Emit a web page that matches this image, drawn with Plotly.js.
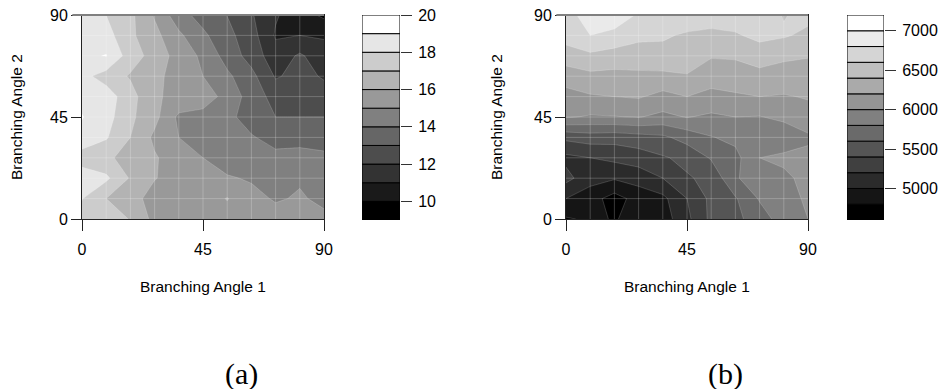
<!DOCTYPE html>
<html><head><meta charset="utf-8">
<script src="https://cdn.plot.ly/plotly-3.0.1.min.js"></script>
<style>html,body{margin:0;padding:0;background:#fff}#chart{width:939px;height:389px}</style>
</head><body><div id="chart"></div>
<script>
// grid of branching angles (data nodes)
const angle1 = [0, 9, 18, 27, 36, 45, 54, 63, 72, 81, 90];
const angle2 = [0, 9, 18, 27, 36, 45, 54, 63, 72, 81, 90];
const tickAngles = [0, 45, 90];

// panel (a): rows are angle2 = 0 .. 90, columns angle1 = 0 .. 90
const zA = [
  [17.6, 17.5, 16.95, 15.7, 15.6, 15.6, 15.6, 15.5, 15.4, 15.3, 15.2],
  [18.05, 17.0, 16.4, 15.6, 15.5, 15.5, 16.05, 15.3, 14.9, 15.1, 14.8],
  [18.6, 18.2, 16.9, 16.05, 15.6, 15.3, 15.1, 14.9, 14.8, 14.9, 14.6],
  [17.5, 17.2, 16.6, 16.1, 15.5, 15.0, 14.5, 14.1, 14.3, 14.5, 14.3],
  [18.7, 18.1, 17.0, 15.8, 15.0, 14.5, 14.2, 14.1, 13.6, 13.5, 13.4],
  [19.05, 18.4, 17.2, 16.3, 14.8, 14.6, 14.3, 13.5, 13.0, 13.0, 13.0],
  [18.7, 18.5, 17.4, 16.1, 15.8, 15.6, 14.6, 13.6, 12.6, 12.5, 12.4],
  [18.3, 17.6, 16.9, 16.2, 15.7, 15.0, 14.2, 13.3, 11.9, 12.3, 11.9],
  [18.8, 19.05, 17.5, 16.6, 15.6, 14.8, 13.6, 12.6, 11.4, 12.15, 11.4],
  [18.8, 18.4, 17.2, 16.3, 15.2, 14.2, 13.3, 12.4, 10.9, 11.0, 10.9],
  [18.7, 18.0, 17.25, 15.9, 14.4, 13.6, 12.98, 12.1, 11.1, 10.45, 9.8]
];
const levelsA = [9, 10, 11, 12, 13, 14, 15, 16, 17, 18, 19, 20];
const keyTicksA = [10, 12, 14, 16, 18, 20];

// panel (b)
const zB = [
  [4780, 4830, 4790, 4850, 4900, 5150, 5450, 5550, 5700, 5900, 6000],
  [5000, 4880, 4720, 4880, 4950, 5200, 5450, 5580, 5820, 5950, 6020],
  [5260, 5080, 5020, 5080, 5200, 5380, 5450, 5780, 5900, 5950, 6070],
  [5150, 5200, 5250, 5300, 5380, 5450, 5620, 5740, 6000, 6050, 6060],
  [5450, 5500, 5480, 5520, 5560, 5680, 5790, 5850, 5900, 5850, 5960],
  [6020, 5980, 5990, 6010, 5950, 6010, 5960, 6000, 5990, 6050, 6150],
  [6120, 6180, 6200, 6220, 6140, 6200, 6160, 6180, 6200, 6190, 6210],
  [6300, 6350, 6330, 6360, 6350, 6390, 6260, 6280, 6330, 6280, 6250],
  [6500, 6560, 6540, 6500, 6550, 6480, 6420, 6430, 6500, 6450, 6420],
  [6690, 6800, 6700, 6650, 6620, 6580, 6560, 6580, 6650, 6620, 6560],
  [6720, 6900, 7020, 6760, 6720, 6700, 6680, 6700, 6700, 6590, 6650]
];
const levelsB = [4600, 4800, 5000, 5200, 5400, 5600, 5800, 6000, 6200, 6400, 6600, 6800, 7000, 7200];
const keyTicksB = [5000, 5500, 6000, 6500, 7000];

const xTitle = 'Branching Angle 1';
const yTitle = 'Branching Angle 2';
const panelLabels = ['(a)', '(b)'];

const FONT = 'Liberation Sans, Arial, Helvetica, sans-serif';
const SERIF = 'Liberation Serif, DejaVu Serif, serif';
const grayScale = [[0, 'rgb(0,0,0)'], [1, 'rgb(255,255,255)']];

function grayOf(k, n) {
  const g = Math.round(255 * k / (n - 1));
  return 'rgb(' + g + ',' + g + ',' + g + ')';
}

function contourTrace(z, levels, xa, ya) {
  const step = levels[1] - levels[0];
  return {
    type: 'contour', x: angle1, y: angle2, z: z, xaxis: xa, yaxis: ya,
    autocontour: false,
    contours: {start: levels[1], end: levels[levels.length - 2], size: step, coloring: 'fill', showlines: true},
    line: {color: 'rgba(255,255,255,0.28)', width: 0.6, smoothing: 0},
    colorscale: grayScale, showscale: false, hoverinfo: 'skip'
  };
}

function keyTrace(levels, xa, ya) {
  const nb = levels.length - 1;
  const base = levels.slice(0, nb);
  const h = base.map((b, k) => levels[k + 1] - b);
  const cols = base.map((b, k) => grayOf(k, nb));
  return {
    type: 'bar', x: base.map(() => 0), y: h, base: base, width: 1,
    xaxis: xa, yaxis: ya, marker: {color: cols, line: {color: '#000', width: 1}},
    hoverinfo: 'skip', showlegend: false
  };
}

const yTop = 1 - 15 / 389, yBot = 1 - 219 / 389;

function mainX(domain) {
  return {domain: domain, range: [0, 90], tickvals: tickAngles, ticktext: tickAngles.map(String),
    ticks: 'outside', ticklen: 11, tickcolor: '#222', tickwidth: 1, showgrid: false, zeroline: false,
    showline: true, linecolor: '#222', linewidth: 1, mirror: true,
    tickfont: {family: FONT, size: 16, color: '#000'}, ticklabelstandoff: 5};
}
function mainY(domain, anchor) {
  return {domain: domain, anchor: anchor, range: [0, 90], tickvals: tickAngles, ticktext: tickAngles.map(String),
    ticks: 'outside', ticklen: 10, tickcolor: '#222', tickwidth: 1, showgrid: false, zeroline: false,
    showline: true, linecolor: '#222', linewidth: 1, mirror: true,
    tickfont: {family: FONT, size: 16, color: '#000'}};
}
function keyX(domain, anchor) {
  return {domain: domain, anchor: anchor, range: [-0.5, 0.5], showticklabels: false, ticks: '', showgrid: false,
    zeroline: false, showline: false};
}
function keyY(domain, anchor, levels, ticks) {
  return {domain: domain, anchor: anchor, side: 'right', range: [levels[0], levels[levels.length - 1]],
    tickvals: ticks, ticktext: ticks.map(String), ticks: 'outside', ticklen: 11, tickcolor: '#333',
    showgrid: false, zeroline: false, showline: false,
    tickfont: {family: FONT, size: 16, color: '#000'}, ticklabelstandoff: 3};
}

// seams of the filled cells (drawn over the fill, at every data node)
const shapes = [];
[['x', 'y'], ['x2', 'y2']].forEach(([xr, yr]) => {
  angle1.slice(1, -1).forEach(v => shapes.push({type: 'line', xref: xr, yref: yr, x0: v, x1: v, y0: 0, y1: 90,
    line: {color: 'rgba(255,255,255,0.22)', width: 1}, layer: 'above'}));
  angle2.slice(1, -1).forEach(v => shapes.push({type: 'line', xref: xr, yref: yr, y0: v, y1: v, x0: 0, x1: 90,
    line: {color: 'rgba(255,255,255,0.22)', width: 1}, layer: 'above'}));
  // grey top edge of the plotting box
  shapes.push({type: 'line', xref: xr + ' domain', yref: yr + ' domain', x0: -0.04, x1: 1, y0: 1, y1: 1,
    line: {color: '#808080', width: 2}, layer: 'above'});
});

const ann = (text, x, y, opts) => Object.assign({text: text, x: x, y: y, xref: 'paper', yref: 'paper',
  showarrow: false, xanchor: 'center', yanchor: 'middle', font: {family: FONT, size: 15.5, color: '#000'}}, opts || {});

const annotations = [
  ann(yTitle, 17 / 939, 1 - 117 / 389, {textangle: -90}),
  ann(xTitle, 203 / 939, 1 - 286 / 389),
  ann(yTitle, 497 / 939, 1 - 117 / 389, {textangle: -90}),
  ann(xTitle, 687 / 939, 1 - 286 / 389),
  ann(panelLabels[0], 242 / 939, 1 - 374 / 389, {font: {family: SERIF, size: 30, color: '#000'}}),
  ann(panelLabels[1], 725 / 939, 1 - 374 / 389, {font: {family: SERIF, size: 30, color: '#000'}})
];

const data = [
  contourTrace(zA, levelsA, 'x', 'y'),
  contourTrace(zB, levelsB, 'x2', 'y2'),
  keyTrace(levelsA, 'x3', 'y3'),
  keyTrace(levelsB, 'x4', 'y4')
];

const layout = {
  width: 939, height: 389, margin: {l: 0, r: 0, t: 0, b: 0},
  paper_bgcolor: '#fff', plot_bgcolor: '#fff', showlegend: false, barmode: 'overlay',
  xaxis: Object.assign(mainX([82 / 939, 324 / 939]), {anchor: 'y'}),
  yaxis: mainY([yBot, yTop], 'x'),
  xaxis2: Object.assign(mainX([566 / 939, 808 / 939]), {anchor: 'y2'}),
  yaxis2: mainY([yBot, yTop], 'x2'),
  xaxis3: keyX([362 / 939, 400 / 939], 'y3'),
  yaxis3: keyY([1 - 220 / 389, yTop], 'x3', levelsA, keyTicksA),
  xaxis4: keyX([847 / 939, 884 / 939], 'y4'),
  yaxis4: keyY([1 - 220 / 389, yTop], 'x4', levelsB, keyTicksB),
  shapes: shapes, annotations: annotations
};

Plotly.newPlot('chart', data, layout, {staticPlot: true, displayModeBar: false});
</script></body></html>
